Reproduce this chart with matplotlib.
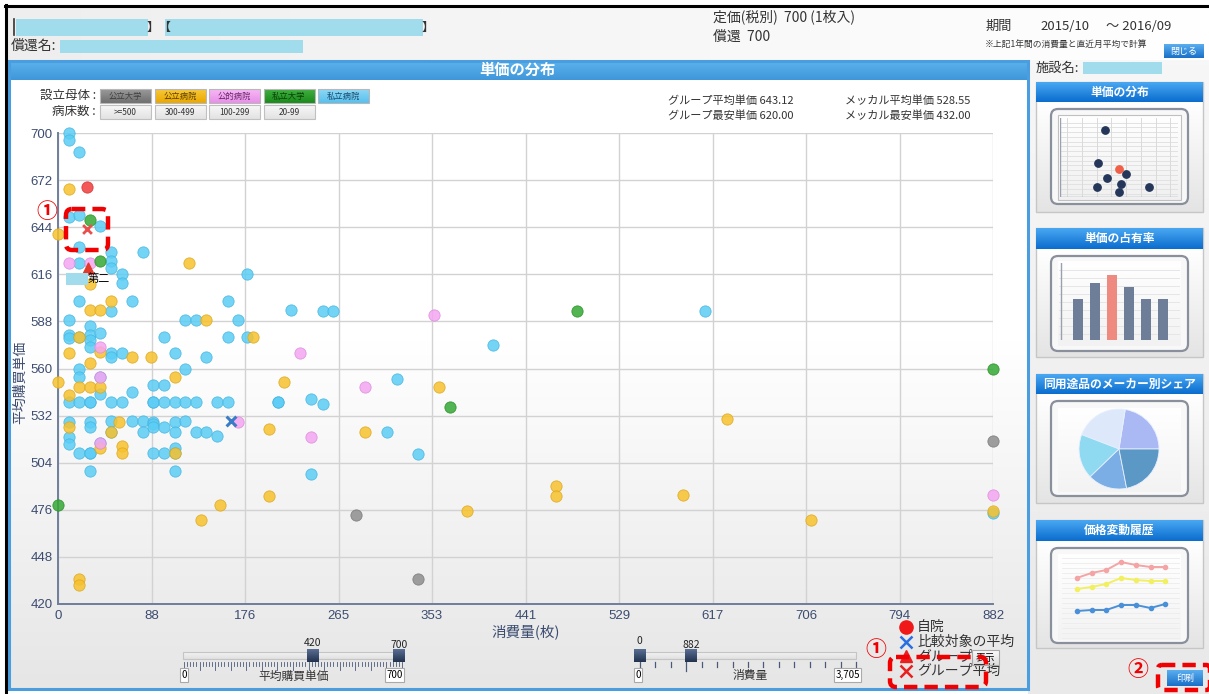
import numpy as np
import matplotlib
matplotlib.use('Agg')
import matplotlib.pyplot as plt
from matplotlib.patches import Rectangle, FancyBboxPatch
from matplotlib.colors import LinearSegmentedColormap

plt.rcParams['font.family'] = ['Noto Sans CJK JP', 'DejaVu Sans']

W, H = 1209, 694

# 設立母体ごとの (消費量, 平均購買単価)
shiritsu_byoin_x = [10, 10, 20, 10, 20, 40, 20, 50, 80, 20, 50, 50, 60, 60, 178,
                    20, 70, 160, 50, 220, 250, 259, 610, 10, 120, 130, 170, 30,
                    10, 10, 20, 30, 30, 40, 100, 160, 178, 410, 30, 50, 50, 60, 110, 140,
                    20, 120, 20, 40, 320, 90, 100, 40, 70, 239,
                    10, 20, 30, 30, 50, 60, 90, 90, 100, 110, 120, 130, 150, 160, 208, 208, 250,
                    10, 30, 50, 70, 80, 90, 90, 110, 120,
                    30, 90, 100, 80, 110, 130, 140, 150, 50, 310,
                    10, 10, 40, 110, 20, 30, 30, 90, 100, 110, 340, 30, 110, 239, 882]
shiritsu_byoin_y = [700, 696, 689, 650, 651, 645, 632, 629, 629, 623, 624, 620, 616, 611, 616,
                    600, 600, 600, 594, 595, 594, 594, 594, 589, 589, 589, 589, 585,
                    580, 578, 579, 580, 577, 581, 579, 579, 579, 574, 573, 569, 567, 569, 569, 567,
                    560, 560, 555, 555, 554, 550, 550, 545, 546, 542,
                    540, 540, 540, 540, 540, 540, 540, 540, 540, 540, 540, 540, 540, 540, 540, 540, 539,
                    528, 528, 529, 529, 529, 528, 527, 528, 529,
                    525, 525, 525, 522, 522, 522, 522, 520, 522, 522,
                    519, 515, 516, 513, 510, 510, 510, 510, 510, 510, 509, 499, 499, 497, 474]

kouritsu_byoin_x = [10, 0, 124, 30, 50, 30, 40, 140, 20, 184, 40, 10, 70, 88, 30, 0,
                    20, 30, 40, 110, 213, 10, 58, 199, 10, 50, 40, 60, 60, 110, 199,
                    153, 135, 20, 20, 359, 290, 470, 470, 386, 631, 590, 710, 882]
kouritsu_byoin_y = [667, 640, 623, 610, 600, 595, 595, 589, 579, 579, 570, 569, 567, 567, 563, 552,
                    549, 549, 549, 555, 552, 544, 528, 524, 525, 522, 513, 514, 510, 510, 484,
                    479, 470, 435, 431, 549, 522, 490, 484, 475, 530, 485, 470, 475]

kouteki_byoin_x = [10, 30, 40, 40, 228, 170, 239, 290, 355, 882, 40]
kouteki_byoin_y = [623, 623, 573, 555, 569, 528, 519, 549, 592, 485, 516]

shiritsu_daigaku_x = [30, 40, 0, 490, 370, 882]
shiritsu_daigaku_y = [648, 624, 479, 594, 537, 560]

kouritsu_daigaku_x = [281, 340, 882]
kouritsu_daigaku_y = [473, 435, 517]

jiin_x, jiin_y = [27], [668]
hikaku_avg = (163, 528.55)
group_avg = (27, 643.12)
group_min = (28, 620.0)

x_ticks = np.linspace(0, 882, 11)
y_ticks = np.arange(420, 701, 28)

# サムネイル用
thumb_dots_x = [38, 32, 40, 31, 52, 50, 75, 56]
thumb_dots_y = [85, 43, 24, 13, 16, 6, 13, 29]
thumb_red = (50, 35)
thumb_bars = [41, 57, 65, 53, 41, 41]
pie_shares = [81, 78, 65, 57, 79]
pie_colors = ['#aab8f4', '#dde9fb', '#8fdaf0', '#7aaee4', '#5b98c6']
hist_pink = [72, 77, 80, 88, 85, 83, 83]
hist_yellow = [61, 63, 66, 72, 70, 69, 69]
hist_blue = [39, 40, 40, 45, 45, 42, 46]

fig = plt.figure(figsize=(W / 100, H / 100), dpi=100)
bg = fig.add_axes([0, 0, 1, 1])
bg.axis('off')


def grad(ax, x0, y0, x1, y1, c0, c1, z=0, horiz=False):
    cm = LinearSegmentedColormap.from_list('g', [c0, c1])
    g = np.linspace(0, 1, 128)
    arr = g.reshape(1, -1) if horiz else g.reshape(-1, 1)
    ax.imshow(arr, cmap=cm, extent=(x0, x1, y1, y0), aspect='auto',
              zorder=z, interpolation='bilinear')


def box(ax, x0, y0, x1, y1, fc, ec='none', lw=1, z=1):
    ax.add_patch(Rectangle((x0, y0), x1 - x0, y1 - y0, fc=fc, ec=ec, lw=lw, zorder=z))


def txt(ax, x, y, s, size=9.5, color='#333333', **kw):
    ax.text(x, y, s, fontsize=size, color=color, va='center', **kw)


# ---- page background / header
grad(bg, 6, 6, W, 60, '#eeeeee', '#ffffff', horiz=True)
grad(bg, 1028, 60, W, H, '#f7f7f7', '#e9e9e9')
bg.plot([5, W], [6, 6], color='black', lw=2.2, zorder=5)
bg.plot([6, 6], [5, H], color='black', lw=2.2, zorder=5)

cyan_mask = '#a0dcec'
bg.plot([14, 14], [19, 35], color='#333333', lw=1.2, zorder=3)
box(bg, 16, 19, 148, 36, cyan_mask, z=2)
box(bg, 165, 19, 423, 36, cyan_mask, z=2)
txt(bg, 147, 27, '】【', 9, zorder=4)
txt(bg, 422, 27, '】', 9, zorder=4)
txt(bg, 11, 46, '償還名:', 10)
box(bg, 60, 40, 303, 53, cyan_mask, z=3)
txt(bg, 713, 17, '定価(税別)  700 (1枚入)', 10)
txt(bg, 713, 37, '償還  700', 10)
txt(bg, 985, 26, '期間', 9.5)
txt(bg, 1040, 26, '2015/10', 9.5)
txt(bg, 1106, 26, '～ 2016/09', 9.5)
txt(bg, 985, 44, '※上記1年間の消費量と直近月平均で計算', 6.3)
grad(bg, 1164, 44, 1204, 58, '#5aaef0', '#1a70c8', z=3)
bg.text(1184, 51, '閉じる', fontsize=6.5, color='white', ha='center', va='center', zorder=4)

# ---- main panel
grad(bg, 9, 80, 1028, 340, '#ffffff', '#ffffff', z=0)
grad(bg, 9, 340, 1028, 689, '#ffffff', '#e6e6e6', z=0)
grad(bg, 9, 61, 1028, 80, '#5cb2ec', '#3f97da', z=1)
bg.add_patch(Rectangle((9, 61), 1019, 628, fc='none', ec='#4a9ee0', lw=2.2, zorder=2))
bg.text(517, 70, '単価の分布', fontsize=11, color='white', fontweight='bold',
        ha='center', va='center', zorder=3)

# 凡例ボタン
txt(bg, 40, 95, '設立母体 :', 9)
txt(bg, 52, 111, '病床数 :', 9)
btns = [('公立大学', '#9a9a9a', '#6f6f6f', '#404040'),
        ('公立病院', '#f8c83a', '#eaa800', '#5a4000'),
        ('公的病院', '#f7b8f5', '#e890e8', '#6a2a6a'),
        ('私立大学', '#40b040', '#1a8a1a', '#0a400a'),
        ('私立病院', '#8ed8f6', '#58c0ee', '#1a4a6a')]
for i, (lab, c0, c1, tc) in enumerate(btns):
    x0 = 100 + i * 54.5
    grad(bg, x0, 89, x0 + 51, 103, c0, c1, z=2)
    bg.add_patch(Rectangle((x0, 89), 51, 14, fc='none', ec='#b8b8b8', lw=0.8, zorder=3))
    bg.text(x0 + 25.5, 96, lab, fontsize=6, color=tc, ha='center', va='center', zorder=4)
for i, lab in enumerate(['>=500', '300-499', '100-299', '20-99']):
    x0 = 100 + i * 54.5
    grad(bg, x0, 105, x0 + 51, 119, '#f8f8f8', '#e2e2e2', z=2)
    bg.add_patch(Rectangle((x0, 105), 51, 14, fc='none', ec='#c0c0c0', lw=0.8, zorder=3))
    bg.text(x0 + 25.5, 112, lab, fontsize=6, color='#333333', ha='center', va='center', zorder=4)

txt(bg, 668, 101, 'グループ平均単価 643.12', 8)
txt(bg, 668, 116, 'グループ最安単価 620.00', 8)
txt(bg, 845, 101, 'メッカル平均単価 528.55', 8)
txt(bg, 845, 116, 'メッカル最安単価 432.00', 8)

# ---- scatter
ax = fig.add_axes([58 / W, 1 - 604 / H, 935 / W, 471 / H], zorder=2)
ax.set_facecolor('none')
ax.set_xlim(0, 882)
ax.set_ylim(420, 700)
ax.set_xticks(x_ticks)
ax.set_xticklabels([f'{v:.0f}' for v in x_ticks])
ax.set_yticks(y_ticks)
ax.grid(True, color='#d2d2d2', lw=1)
ax.set_axisbelow(True)
for s in ['top', 'right']:
    ax.spines[s].set_visible(False)
for s in ['left', 'bottom']:
    ax.spines[s].set_color('#6f7e9c')
    ax.spines[s].set_linewidth(1.4)
ax.tick_params(length=0, pad=4, labelsize=9.5, labelcolor='#3c4c70')
for lab in ax.get_xticklabels() + ax.get_yticklabels():
    lab.set_family(['Liberation Sans Narrow', 'Liberation Sans'])
ax.set_xlabel('消費量(枚)', fontsize=10.5, color='#3c4c70', labelpad=2)
ax.set_ylabel('平均購買単価', fontsize=10, color='#3c4c70')
ax.yaxis.set_label_coords(-0.033, 0.47)

series = [(shiritsu_byoin_x, shiritsu_byoin_y, '#5ccdf5', '#46b6e0'),
          (kouritsu_byoin_x, kouritsu_byoin_y, '#f7c22e', '#dca820'),
          (kouteki_byoin_x, kouteki_byoin_y, '#f5a6f2', '#dc8cdc'),
          (shiritsu_daigaku_x, shiritsu_daigaku_y, '#34a834', '#2a902a'),
          (kouritsu_daigaku_x, kouritsu_daigaku_y, '#8e8e8e', '#7a7a7a'),
          (jiin_x, jiin_y, '#f23c3c', '#d83030')]
for xs, ys, fc, ec in series:
    ax.scatter(xs, ys, s=66, c=fc, edgecolors=ec, linewidths=0.6, alpha=0.85,
               zorder=3, clip_on=False)
ax.scatter(*hikaku_avg, marker='x', s=50, c='#3a7cc8', linewidths=2.2, zorder=4)
ax.scatter(*group_avg, marker='x', s=40, c='#e85050', linewidths=2.0, zorder=4)
ax.scatter(*group_min, marker='^', s=60, c='#e23a2a', zorder=4)
ax.annotate('第二', group_min, xytext=(0, -8), textcoords='offset points',
            fontsize=8, ha='left', va='center', color='black', zorder=5)
ax.annotate('\u3000\u3000', group_min, xytext=(-7.8, -8), textcoords='offset points',
            fontsize=7, ha='center', va='center',
            bbox=dict(boxstyle='square,pad=0.1', fc='#a0dcec', ec='none'), zorder=5)

# ---- sliders
bg.text(313, 643, '420', fontsize=7.5, ha='center', va='center', color='#222222')
bg.text(399, 645, '700', fontsize=7.5, ha='center', va='center', color='#222222')
grad(bg, 183, 652, 403, 659, '#f4f4f4', '#e0e0e0', z=2)
bg.add_patch(Rectangle((183, 652), 220, 7, fc='none', ec='#c4c4c4', lw=0.8, zorder=3))
for k, v in enumerate(np.arange(0, 701, 10)):
    xx = 184 + v / 700 * 218
    ln = 8 if k % 5 == 0 else 4
    bg.plot([xx, xx], [662, 662 + ln], color='#4a5a7a', lw=0.6, zorder=3)
for xx in (313, 399):
    grad(bg, xx - 6, 649, xx + 6, 662, '#5a6f94', '#22324e', z=4)
box(bg, 180, 668, 188, 682, 'white', '#aaaaaa', 0.8, z=3)
bg.text(184, 675, '0', fontsize=7, ha='center', va='center', zorder=4)
box(bg, 385, 668, 404, 682, 'white', '#aaaaaa', 0.8, z=3)
bg.text(394.5, 675, '700', fontsize=7, ha='center', va='center', zorder=4)
bg.text(294, 676, '平均購買単価', fontsize=8.5, ha='center', va='center', color='#333333')

bg.text(639, 641, '0', fontsize=7.5, ha='center', va='center', color='#222222')
bg.text(691, 645, '882', fontsize=7.5, ha='center', va='center', color='#222222')
grad(bg, 635, 652, 856, 659, '#f4f4f4', '#e0e0e0', z=2)
bg.add_patch(Rectangle((635, 652), 221, 7, fc='none', ec='#c4c4c4', lw=0.8, zorder=3))
for k, xx in enumerate(np.linspace(640, 856, 15)):
    ln = 9 if k in (3, 14) else 5
    bg.plot([xx, xx], [662, 662 + ln], color='#4a5a7a', lw=0.9, zorder=3)
for xx in (640, 691):
    grad(bg, xx - 6, 649, xx + 6, 662, '#5a6f94', '#22324e', z=4)
box(bg, 634, 668, 642, 682, 'white', '#aaaaaa', 0.8, z=3)
bg.text(638, 675, '0', fontsize=7, ha='center', va='center', zorder=4)
box(bg, 834, 668, 861, 682, 'white', '#aaaaaa', 0.8, z=3)
bg.text(847.5, 675, '3,705', fontsize=7, ha='center', va='center', zorder=4)
bg.text(750, 676, '消費量', fontsize=8.5, ha='center', va='center', color='#333333')

# ---- legend (bottom right)
top = fig.add_axes([0, 0, 1, 1], zorder=6)
top.set_facecolor('none')
top.axis('off')
top.plot(906, 627, 'o', color='#f01818', ms=9.5)
top.plot(906, 642, 'x', color='#2a6ee0', ms=8, mew=1.8)
top.plot(906, 656, '^', color='#e82020', ms=8)
top.plot(906, 671, 'x', color='#e82020', ms=8, mew=1.8)
txt(top, 917, 627, '自院', 10)
txt(top, 917, 642, '比較対象の平均', 10)
txt(top, 917, 656, 'グループ', 10)
txt(top, 917, 671, 'グループ平均', 10)
grad(top, 972, 650, 999, 665, '#fafafa', '#dcdcdc', z=2)
top.add_patch(Rectangle((972, 650), 27, 15, fc='none', ec='#a8a8a8', lw=0.8, zorder=3))
top.text(985.5, 657.5, '表示', fontsize=7, ha='center', va='center', zorder=4)

# 注記 (赤破線)
red = '#f00000'
top.add_patch(FancyBboxPatch((66, 209), 42, 41, boxstyle='round,pad=0,rounding_size=6',
                             fc='none', ec=red, lw=3.2, ls=(0, (3, 1.6)), zorder=7))
top.add_patch(FancyBboxPatch((890, 657), 96, 30, boxstyle='round,pad=0,rounding_size=6',
                             fc='none', ec=red, lw=3.2, ls=(0, (3, 1.6)), zorder=7))
top.add_patch(FancyBboxPatch((1158, 665), 52, 25, boxstyle='round,pad=0,rounding_size=4',
                             fc='none', ec=red, lw=3.2, ls=(0, (3, 1.6)), zorder=7))
top.text(47, 211, '①', fontsize=15, color=red, ha='center', va='center', fontweight='bold')
top.text(876, 650, '①', fontsize=15, color=red, ha='center', va='center', fontweight='bold')
top.text(1138, 669, '②', fontsize=15, color=red, ha='center', va='center', fontweight='bold')
grad(top, 1167, 670, 1203, 686, '#5aaef0', '#1a70c8', z=6)
top.text(1185, 678, '印刷', fontsize=6.5, color='white', ha='center', va='center', zorder=8)

# ---- sidebar
txt(bg, 1036, 68, '施設名:', 9.5)
box(bg, 1083, 62, 1162, 74, cyan_mask, z=3)
cards = [('単価の分布', 82, 102, 212), ('単価の占有率', 228, 249, 357),
         ('同用途品のメーカー別シェア', 374, 394, 503), ('価格変動履歴', 520, 541, 648)]
for title, t0, t1, b1 in cards:
    grad(bg, 1036, t1, 1203, b1, '#ffffff', '#e4e4e4', z=2)
    bg.add_patch(Rectangle((1036, t0), 167, b1 - t0, fc='none', ec='#c6c6c6', lw=1, zorder=3))
    grad(bg, 1036, t0, 1203, t1, '#4aa8f2', '#0a6cce', z=3)
    bg.text(1119.5, (t0 + t1) / 2, title, fontsize=8.5, color='white', fontweight='bold',
            ha='center', va='center', zorder=4)
    fy0 = t1 + 7
    bg.add_patch(FancyBboxPatch((1051, fy0), 137, 95, boxstyle='round,pad=0,rounding_size=7',
                                fc='#f8f8f8', ec='#8a8f9c', lw=1.6, zorder=3))


def thumb_ax(x0, y0, x1, y1):
    a = fig.add_axes([x0 / W, 1 - y1 / H, (x1 - x0) / W, (y1 - y0) / H], zorder=3)
    a.set_facecolor('none')
    for s in a.spines.values():
        s.set_visible(False)
    a.set_xticks([])
    a.set_yticks([])
    return a


# 分布サムネイル
grad(bg, 1058, 115, 1181, 200, '#ffffff', '#f0f0f0', z=4)
bg.add_patch(Rectangle((1058, 115), 123, 85, fc='none', ec='#c0c0c0', lw=0.8, zorder=5))
t1 = thumb_ax(1060, 118, 1178, 197)
t1.set_xlim(0, 100)
t1.set_ylim(0, 100)
for gy in np.arange(4, 100, 6):
    t1.axhline(gy, color='#e2e2e2', lw=0.7)
for gx in np.arange(6, 100, 12.5):
    t1.axvline(gx, color='#dadada', lw=0.7)
t1.plot([0, 0, 100], [100, 0, 0], color='#9aa0b0', lw=1)
t1.scatter(thumb_dots_x, thumb_dots_y, s=28, c='#24365a', zorder=3)
t1.scatter(*thumb_red, s=28, c='#f06048', zorder=4)

# 占有率サムネイル
grad(bg, 1058, 261, 1181, 346, '#ffffff', '#f2f2f2', z=4)
t2 = thumb_ax(1059, 263, 1180, 340)
t2.set_xlim(-1.1, 6.0)
t2.set_ylim(0, 77)
for gy in np.arange(6, 77, 8):
    t2.axhline(gy, color='#e6e6e6', lw=0.7, zorder=0)
bar_cols = ['#6e7d98'] * 6
bar_cols[2] = '#ee8a80'
t2.bar(range(6), thumb_bars, width=0.6, color=bar_cols, zorder=2)
t2.axvline(-1.0, color='#9aa0b0', lw=1)

# シェアサムネイル
grad(bg, 1058, 408, 1181, 492, '#ffffff', '#f3f3f3', z=4)
t3 = thumb_ax(1079, 409, 1159, 489)
t3.pie(pie_shares, colors=pie_colors, startangle=0, counterclock=True,
       wedgeprops=dict(ec='#e8f0ff', lw=0.6))
t3.set_xlim(-1, 1)
t3.set_ylim(-1, 1)

# 価格履歴サムネイル
grad(bg, 1058, 554, 1181, 640, '#ffffff', '#f3f3f3', z=4)
t4 = thumb_ax(1062, 550, 1180, 650)
t4.set_xlim(-1, 7)
t4.set_ylim(0, 100)
for gy in np.arange(12, 96, 5):
    t4.axhline(gy, color='#ececec', lw=0.6, zorder=0)
xs7 = range(7)
t4.plot(xs7, hist_pink, color='#f4a4a4', lw=1.4, marker='o', ms=3)
t4.plot(xs7, hist_yellow, color='#f2f060', lw=1.4, marker='o', ms=3)
t4.plot(xs7, hist_blue, color='#4a90d8', lw=1.4, marker='o', ms=3)

for a in (bg, top):
    a.set_xlim(0, W)
    a.set_ylim(H, 0)

fig.savefig('out.png', dpi=100)
